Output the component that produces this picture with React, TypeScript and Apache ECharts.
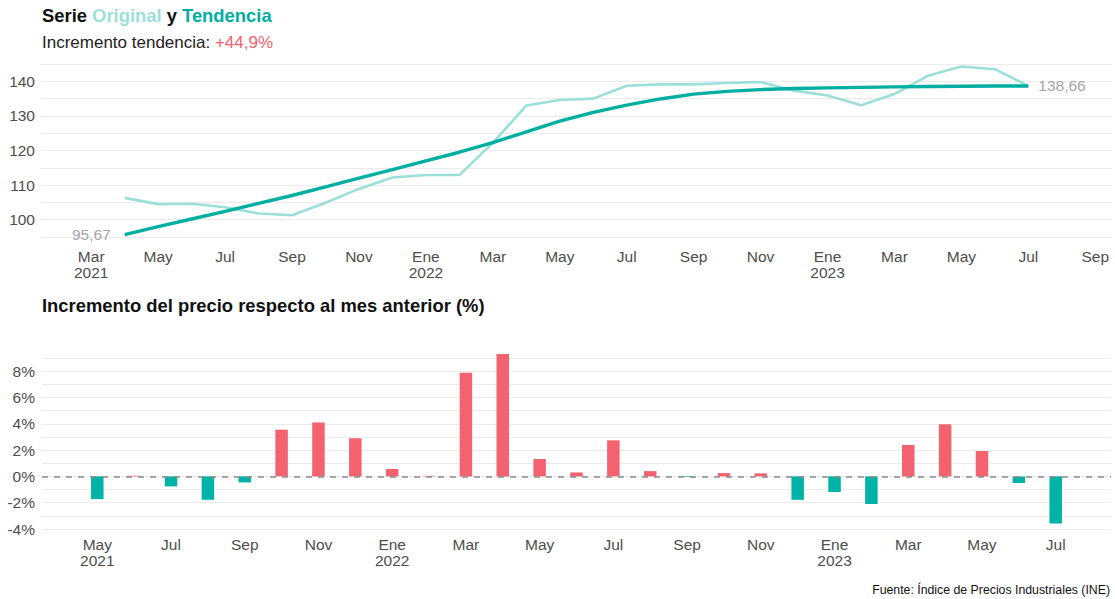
import React, { useEffect, useRef } from "react";
import * as echarts from "echarts";

// ---- Data ----
const months: string[] = [
  "2021-04", "2021-05", "2021-06", "2021-07", "2021-08", "2021-09", "2021-10",
  "2021-11", "2021-12", "2022-01", "2022-02", "2022-03", "2022-04", "2022-05",
  "2022-06", "2022-07", "2022-08", "2022-09", "2022-10", "2022-11", "2022-12",
  "2023-01", "2023-02", "2023-03", "2023-04", "2023-05", "2023-06", "2023-07",
];
const original: number[] = [
  106.3, 104.5, 104.6, 103.6, 101.8, 101.3, 104.9, 108.9, 112.2, 112.9, 112.9,
  122.2, 133.0, 134.6, 135.0, 138.7, 139.1, 139.1, 139.5, 139.8, 137.3, 135.9,
  133.1, 136.3, 141.6, 144.3, 143.5, 138.66,
];
const trend: number[] = [
  95.67, 98.0, 100.2, 102.4, 104.7, 107.0, 109.5, 112.0, 114.5, 117.0, 119.5,
  122.3, 125.4, 128.5, 131.0, 133.1, 134.9, 136.3, 137.1, 137.6, 137.9, 138.1,
  138.25, 138.4, 138.5, 138.58, 138.63, 138.66,
];

const pctMonths: string[] = months.slice(1);
const pctChange: number[] = [
  -1.73, 0.05, -0.76, -1.78, -0.46, 3.55, 4.1, 2.9, 0.56, 0.04, 7.87, 9.3,
  1.32, 0.3, 2.74, 0.4, -0.05, 0.25, 0.23, -1.78, -1.19, -2.1, 2.39, 3.96,
  1.93, -0.5, -3.58,
];

// tick labels every two months
const topTickLabels: string[] = [
  "Mar\n2021", "May", "Jul", "Sep", "Nov", "Ene\n2022", "Mar", "May", "Jul",
  "Sep", "Nov", "Ene\n2023", "Mar", "May", "Jul", "Sep",
];
const bottomTickLabels: string[] = [
  "May\n2021", "Jul", "Sep", "Nov", "Ene\n2022", "Mar", "May", "Jul", "Sep",
  "Nov", "Ene\n2023", "Mar", "May", "Jul",
];

const topOrigin = "2021-03";
const bottomOrigin = "2021-05";

const monthIndex = (m: string, origin: string): number => {
  const [y, mo] = m.split("-").map(Number);
  const [oy, om] = origin.split("-").map(Number);
  return (y - oy) * 12 + (mo - om);
};

const fmt = (v: number) => v.toFixed(2).replace(".", ",");

const C_ORIG = "#9BDFD9";
const C_TREND = "#00AFA1";
const C_RED = "#F2626F";
const C_TEAL = "#00B3A6";
const FONT = "'Liberation Sans', Arial, Helvetica, sans-serif";
const GRID_COLOR = "#EBEBEB";
const LABEL_COLOR = "#4D4D4D";
const TICK_SIZE = 15.5;

export default function App() {
  const ref = useRef<HTMLDivElement>(null);

  useEffect(() => {
    document.body.style.margin = "0";
    if (!ref.current) return;
    const chart = echarts.init(ref.current, undefined, { renderer: "svg" });

    const origData = months.map((m, i) => [monthIndex(m, topOrigin), original[i]]);
    const trendData = months.map((m, i) => [monthIndex(m, topOrigin), trend[i]]);
    const last = trendData.length - 1;
    const endLabels: any[] = [
      {
        value: trendData[0],
        label: { position: "left", distance: 14, formatter: () => fmt(trend[0]) },
      },
      {
        value: trendData[last],
        label: { position: "right", distance: 10, formatter: () => fmt(trend[last]) },
      },
    ];

    const barData = pctMonths.map((m, i) => [monthIndex(m, bottomOrigin), pctChange[i]]);

    const makeLabel = (labels: string[]) => (v: number) => {
      if (Math.abs(v - Math.round(v)) > 1e-6) return "";
      const r = Math.round(v);
      if (r % 2 !== 0 || r < 0) return "";
      return labels[r / 2] ?? "";
    };

    const option: any = {
      animation: false,
      backgroundColor: "#FFFFFF",
      textStyle: { fontFamily: FONT },
      title: [
        {
          left: 42,
          top: 6.5,
          padding: 0,
          text: "{a|Serie }{b|Original}{a| y }{c|Tendencia}",
          textStyle: {
            rich: {
              a: { fontSize: 18.4, fontWeight: "bold", color: "#111111", fontFamily: FONT },
              b: { fontSize: 18.4, fontWeight: "bold", color: C_ORIG, fontFamily: FONT },
              c: { fontSize: 18.4, fontWeight: "bold", color: C_TREND, fontFamily: FONT },
            },
          },
        },
        {
          left: 42,
          top: 33.5,
          padding: 0,
          text: "{a|Incremento tendencia: }{r|+44,9%}",
          textStyle: {
            fontWeight: "normal",
            rich: {
              a: { fontSize: 17, fontWeight: "normal", color: "#222222", fontFamily: FONT },
              r: { fontSize: 17, fontWeight: "normal", color: C_RED, fontFamily: FONT },
            },
          },
        },
        {
          left: 42,
          top: 296,
          padding: 0,
          text: "Incremento del precio respecto al mes anterior (%)",
          textStyle: { fontSize: 18.4, fontWeight: "bold", color: "#111111", fontFamily: FONT },
        },
        {
          right: 5,
          top: 583.5,
          padding: 0,
          text: "Fuente: Índice de Precios Industriales (INE)",
          textStyle: { fontSize: 12.3, fontWeight: "normal", color: "#111111", fontFamily: FONT },
        },
      ],
      grid: [
        { left: 41, right: 3, top: 64, bottom: 362 },
        { left: 42, right: 4, top: 358, bottom: 70 },
      ],
      xAxis: [
        {
          type: "value",
          gridIndex: 0,
          min: -1.5,
          max: 30.5,
          interval: 0.5,
          axisLine: { show: false },
          axisTick: { show: false },
          splitLine: { show: false },
          axisLabel: {
            formatter: makeLabel(topTickLabels),
            color: LABEL_COLOR,
            fontSize: TICK_SIZE,
            lineHeight: 16,
            margin: 11,
          },
        },
        {
          type: "value",
          gridIndex: 1,
          min: -1.5,
          max: 27.5,
          interval: 0.5,
          axisLine: { show: false },
          axisTick: { show: false },
          splitLine: { show: false },
          axisLabel: {
            formatter: makeLabel(bottomTickLabels),
            color: LABEL_COLOR,
            fontSize: TICK_SIZE,
            lineHeight: 16,
            margin: 7,
          },
        },
      ],
      yAxis: [
        {
          type: "value",
          gridIndex: 0,
          min: 95,
          max: 145,
          interval: 5,
          axisLine: { show: false },
          axisTick: { show: false },
          splitLine: { show: true, lineStyle: { color: GRID_COLOR, width: 1.2 } },
          axisLabel: {
            formatter: (v: number) => (v % 10 === 0 ? String(v) : ""),
            color: LABEL_COLOR,
            fontSize: TICK_SIZE,
            margin: 6,
          },
        },
        {
          type: "value",
          gridIndex: 1,
          min: -4,
          max: 9,
          interval: 1,
          axisLine: { show: false },
          axisTick: { show: false },
          splitLine: { show: true, lineStyle: { color: GRID_COLOR, width: 1.2 } },
          axisLabel: {
            formatter: (v: number) => (Math.round(v) % 2 === 0 ? `${v}%` : ""),
            color: LABEL_COLOR,
            fontSize: TICK_SIZE,
            margin: 7,
          },
        },
      ],
      series: [
        {
          type: "line",
          name: "Original",
          xAxisIndex: 0,
          yAxisIndex: 0,
          data: origData,
          showSymbol: false,
          symbol: "none",
          lineStyle: { color: C_ORIG, width: 2.6 },
          itemStyle: { color: C_ORIG },
          z: 2,
        },
        {
          type: "line",
          name: "Tendencia",
          xAxisIndex: 0,
          yAxisIndex: 0,
          data: trendData,
          showSymbol: false,
          symbol: "none",
          lineStyle: { color: C_TREND, width: 3.4 },
          itemStyle: { color: C_TREND },
          z: 3,
        },
        {
          type: "scatter",
          name: "Etiquetas",
          xAxisIndex: 0,
          yAxisIndex: 0,
          data: endLabels,
          symbolSize: 0,
          itemStyle: { color: "transparent" },
          label: {
            show: true,
            color: "#8C8C8C",
            fontSize: TICK_SIZE,
            fontFamily: FONT,
          },
          z: 4,
        },
        {
          type: "bar",
          name: "Incremento",
          xAxisIndex: 1,
          yAxisIndex: 1,
          data: barData,
          barWidth: 12.5,
          clip: false,
          itemStyle: {
            color: (p: any) => (p.value[1] >= 0 ? C_RED : C_TEAL),
          },
          markLine: {
            silent: true,
            symbol: "none",
            label: { show: false },
            lineStyle: { color: "#8A8A8A", type: [6, 6], width: 1.5 },
            data: [{ yAxis: 0 }],
            z: 5,
          },
        },
      ],
    };

    chart.setOption(option);
    return () => chart.dispose();
  }, []);

  return <div ref={ref} style={{ width: 1115, height: 599 }} />;
}
